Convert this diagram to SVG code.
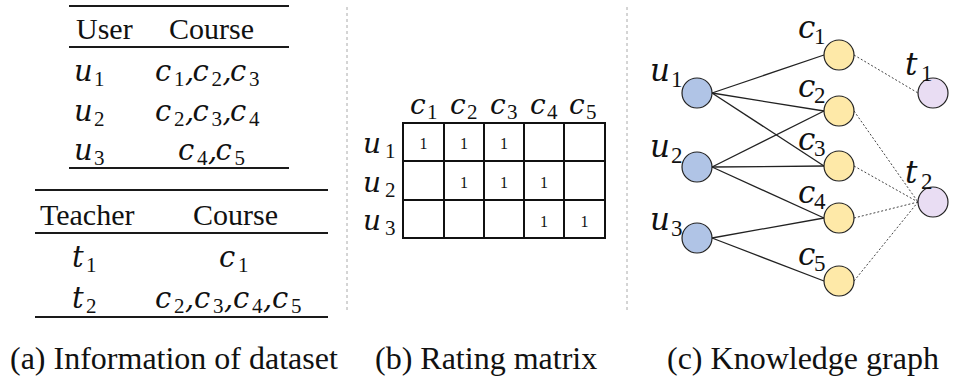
<svg xmlns="http://www.w3.org/2000/svg" width="953" height="378" viewBox="0 0 953 378">
<style>
.rule{stroke:#1a1a1a;stroke-width:2;fill:none}
.hd{font-family:"Liberation Serif",serif;font-size:30px;fill:#111}
.m{font-family:"DejaVu Serif",serif;font-style:italic;font-size:29px;fill:#111}
.m .s{font-family:"Liberation Serif",serif;font-style:normal;font-size:21px}
.mx{font-family:"DejaVu Serif",serif;font-style:italic;font-size:28px;fill:#111}
.mx .s{font-family:"Liberation Serif",serif;font-style:normal;font-size:21px}
.g{font-family:"DejaVu Serif",serif;font-style:italic;font-size:31px;fill:#111}
.g .s{font-family:"Liberation Serif",serif;font-style:normal;font-size:23px}
.one{font-family:"Liberation Serif",serif;font-size:16px;fill:#111;text-anchor:middle}
.grid{stroke:#111;stroke-width:2;fill:#fff}
.sep{stroke:#aaa;stroke-width:1;stroke-dasharray:3 3}
.cap{font-family:"Liberation Serif",serif;font-size:32px;fill:#111}
.e{stroke:#222;stroke-width:1.3}
.d{stroke:#444;stroke-width:1;stroke-dasharray:2 2}
.user{fill:#b0c4e6;stroke:#222;stroke-width:1.2}
.course{fill:#fee9a8;stroke:#222;stroke-width:1.2}
.teacher{fill:#e9ddf3;stroke:#222;stroke-width:1.2}
</style>

<!-- separators -->
<line class="sep" x1="347" y1="7" x2="347" y2="313"/>
<line class="sep" x1="627" y1="7" x2="627" y2="313"/>

<!-- (a) table 1 -->
<g id="table-user">
<line class="rule" x1="69" y1="6" x2="289" y2="6"/>
<line class="rule" x1="69" y1="47" x2="289" y2="47"/>
<line class="rule" x1="69" y1="168" x2="289" y2="168"/>
<text class="hd" x="76" y="39">User</text>
<text class="hd" x="169" y="39">Course</text>
<text class="m" y="81"><tspan x="74">u</tspan><tspan class="s" x="94" dy="5">1</tspan></text>
<text class="m" y="81"><tspan x="155">c</tspan><tspan class="s" x="174" dy="5">1</tspan><tspan x="185" dy="-5">,</tspan><tspan x="192.5">c</tspan><tspan class="s" x="211.5" dy="5">2</tspan><tspan x="222.5" dy="-5">,</tspan><tspan x="230">c</tspan><tspan class="s" x="249" dy="5">3</tspan></text>
<text class="m" y="121"><tspan x="74">u</tspan><tspan class="s" x="94" dy="5">2</tspan></text>
<text class="m" y="121"><tspan x="155">c</tspan><tspan class="s" x="174" dy="5">2</tspan><tspan x="185" dy="-5">,</tspan><tspan x="192.5">c</tspan><tspan class="s" x="211.5" dy="5">3</tspan><tspan x="222.5" dy="-5">,</tspan><tspan x="230">c</tspan><tspan class="s" x="249" dy="5">4</tspan></text>
<text class="m" y="160"><tspan x="74">u</tspan><tspan class="s" x="94" dy="5">3</tspan></text>
<text class="m" y="160"><tspan x="178">c</tspan><tspan class="s" x="197" dy="5">4</tspan><tspan x="208" dy="-5">,</tspan><tspan x="215.5">c</tspan><tspan class="s" x="234.5" dy="5">5</tspan></text>
</g>

<!-- (a) table 2 -->
<g id="table-teacher">
<line class="rule" x1="35" y1="190" x2="328" y2="190"/>
<line class="rule" x1="35" y1="233" x2="328" y2="233"/>
<line class="rule" x1="35" y1="317" x2="328" y2="317"/>
<text class="hd" x="40" y="225">Teacher</text>
<text class="hd" x="193" y="225">Course</text>
<text class="m" y="267"><tspan x="72">t</tspan><tspan class="s" x="86" dy="5">1</tspan></text>
<text class="m" y="267"><tspan x="219">c</tspan><tspan class="s" x="238" dy="5">1</tspan></text>
<text class="m" y="308"><tspan x="72">t</tspan><tspan class="s" x="86" dy="5">2</tspan></text>
<text class="m" y="308"><tspan x="155">c</tspan><tspan class="s" x="174" dy="5">2</tspan><tspan x="185" dy="-5">,</tspan><tspan x="194">c</tspan><tspan class="s" x="213" dy="5">3</tspan><tspan x="224" dy="-5">,</tspan><tspan x="233">c</tspan><tspan class="s" x="252" dy="5">4</tspan><tspan x="263" dy="-5">,</tspan><tspan x="272">c</tspan><tspan class="s" x="291" dy="5">5</tspan></text>
</g>

<!-- (b) rating matrix -->
<g id="matrix">
<rect class="grid" x="403" y="123" width="202" height="115"/>
<path class="grid" fill="none" d="M444 123V238M484 123V238M524 123V238M564 123V238M403 161H605M403 200H605"/>
<text class="mx" y="114"><tspan x="410">c</tspan><tspan class="s" x="427" dy="5">1</tspan></text>
<text class="mx" y="114"><tspan x="450">c</tspan><tspan class="s" x="467" dy="5">2</tspan></text>
<text class="mx" y="114"><tspan x="490">c</tspan><tspan class="s" x="507" dy="5">3</tspan></text>
<text class="mx" y="114"><tspan x="530">c</tspan><tspan class="s" x="547" dy="5">4</tspan></text>
<text class="mx" y="114"><tspan x="569">c</tspan><tspan class="s" x="586" dy="5">5</tspan></text>
<text class="mx" y="153"><tspan x="363">u</tspan><tspan class="s" x="385" dy="5">1</tspan></text>
<text class="mx" y="192"><tspan x="363">u</tspan><tspan class="s" x="385" dy="5">2</tspan></text>
<text class="mx" y="230"><tspan x="363">u</tspan><tspan class="s" x="385" dy="5">3</tspan></text>
<text class="one" x="423.5" y="149">1</text>
<text class="one" x="464" y="149">1</text>
<text class="one" x="504" y="149">1</text>
<text class="one" x="464" y="188">1</text>
<text class="one" x="504" y="188">1</text>
<text class="one" x="544" y="188">1</text>
<text class="one" x="544" y="227">1</text>
<text class="one" x="584.5" y="227">1</text>
</g>

<!-- (c) knowledge graph connectors -->
<g id="connectors">
<line class="e" x1="712" y1="93" x2="824" y2="55"/>
<line class="e" x1="712" y1="93" x2="824" y2="111"/>
<line class="e" x1="712" y1="93" x2="824" y2="166"/>
<line class="e" x1="712" y1="167" x2="824" y2="111"/>
<line class="e" x1="712" y1="167" x2="824" y2="166"/>
<line class="e" x1="712" y1="167" x2="824" y2="218"/>
<line class="e" x1="712" y1="238" x2="824" y2="218"/>
<line class="e" x1="712" y1="238" x2="824" y2="281"/>
<line class="d" x1="854" y1="55" x2="918" y2="93"/>
<line class="d" x1="854" y1="111" x2="918" y2="202"/>
<line class="d" x1="854" y1="166" x2="918" y2="202"/>
<line class="d" x1="854" y1="218" x2="918" y2="202"/>
<line class="d" x1="854" y1="281" x2="918" y2="202"/>
</g>

<g id="node-u1"><circle class="user" cx="697" cy="93" r="15"/><text class="g" y="81"><tspan x="650">u</tspan><tspan class="s" x="671" dy="6">1</tspan></text></g>
<g id="node-u2"><circle class="user" cx="697" cy="167" r="15"/><text class="g" y="157"><tspan x="650">u</tspan><tspan class="s" x="671" dy="6">2</tspan></text></g>
<g id="node-u3"><circle class="user" cx="697" cy="238" r="15"/><text class="g" y="230"><tspan x="650">u</tspan><tspan class="s" x="671" dy="6">3</tspan></text></g>
<g id="node-c1"><circle class="course" cx="839" cy="55" r="15"/><text class="g" y="38"><tspan x="798">c</tspan><tspan class="s" x="814" dy="6">1</tspan></text></g>
<g id="node-c2"><circle class="course" cx="839" cy="111" r="15"/><text class="g" y="97"><tspan x="798">c</tspan><tspan class="s" x="814" dy="6">2</tspan></text></g>
<g id="node-c3"><circle class="course" cx="839" cy="166" r="15"/><text class="g" y="150"><tspan x="798">c</tspan><tspan class="s" x="814" dy="6">3</tspan></text></g>
<g id="node-c4"><circle class="course" cx="839" cy="218" r="15"/><text class="g" y="203"><tspan x="798">c</tspan><tspan class="s" x="814" dy="6">4</tspan></text></g>
<g id="node-c5"><circle class="course" cx="839" cy="281" r="15"/><text class="g" y="265"><tspan x="798">c</tspan><tspan class="s" x="814" dy="6">5</tspan></text></g>
<g id="node-t1"><circle class="teacher" cx="933" cy="93" r="15"/><text class="g" y="75"><tspan x="905">t</tspan><tspan class="s" x="921" dy="6">1</tspan></text></g>
<g id="node-t2"><circle class="teacher" cx="933" cy="202" r="15"/><text class="g" y="183"><tspan x="905">t</tspan><tspan class="s" x="921" dy="6">2</tspan></text></g>

<!-- captions -->
<text class="cap" x="10" y="369">(a) Information of dataset</text>
<text class="cap" x="375" y="369">(b) Rating matrix</text>
<text class="cap" x="667" y="369">(c) Knowledge graph</text>
</svg>
